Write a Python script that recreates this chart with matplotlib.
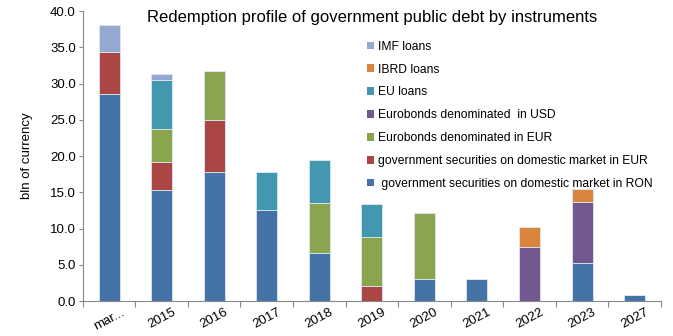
import matplotlib
matplotlib.use("Agg")
import matplotlib.pyplot as plt
from matplotlib.patches import Patch
import numpy as np

plt.rcParams["font.family"] = ["Liberation Sans", "DejaVu Sans"]

categories = ["mar...", "2015", "2016", "2017", "2018", "2019", "2020",
              "2021", "2022", "2023", "2027"]

# stacking order bottom -> top
ron       = [28.6, 15.3, 17.8, 12.6, 6.6, 0.0, 3.0, 3.0, 0.0, 5.3, 0.83]
dom_eur   = [5.8, 3.9, 7.2, 0.0, 0.0, 2.1, 0.0, 0.0, 0.0, 0.0, 0.0]
euro_eur  = [0.0, 4.6, 6.7, 0.0, 6.9, 6.8, 9.1, 0.0, 0.0, 0.0, 0.0]
euro_usd  = [0.0, 0.0, 0.0, 0.0, 0.0, 0.0, 0.0, 0.0, 7.5, 8.35, 0.0]
eu_loans  = [0.0, 6.7, 0.0, 5.15, 6.0, 4.5, 0.0, 0.0, 0.0, 0.0, 0.0]
ibrd      = [0.0, 0.0, 0.0, 0.0, 0.0, 0.0, 0.0, 0.0, 2.7, 1.8, 0.0]
imf       = [3.7, 0.8, 0.0, 0.0, 0.0, 0.0, 0.0, 0.0, 0.0, 0.0, 0.0]

series = [
    (" government securities on domestic market in RON", ron, "#4572A7"),
    ("government securities on domestic market in EUR", dom_eur, "#AA4643"),
    ("Eurobonds denominated in EUR", euro_eur, "#89A54E"),
    ("Eurobonds denominated  in USD", euro_usd, "#71588F"),
    ("EU loans", eu_loans, "#4198AF"),
    ("IBRD loans", ibrd, "#DB843D"),
    ("IMF loans", imf, "#93A9CF"),
]

fig = plt.figure(figsize=(6.73, 3.36), dpi=100)
ax = fig.add_axes([0.123, 0.104, 0.859, 0.863])

x = np.arange(len(categories))
bottom = np.zeros(len(categories))
for label, vals, color in series:
    vals = np.array(vals)
    ax.bar(x, vals, 0.4, bottom=bottom, color=color,
           edgecolor="#dde6f0", linewidth=0.6)
    bottom += vals

ax.set_xlim(-0.5, len(categories) - 0.5)
ax.set_ylim(0, 40)
ax.set_yticks(np.arange(0, 40.1, 5))
ax.set_yticklabels([f"{v:.1f}" for v in np.arange(0, 40.1, 5)], fontsize=9.5)
ax.tick_params(axis="y", length=3, color="#888888", pad=2)

# ticks on category boundaries, labels centred under the bars
ax.set_xticks(np.arange(-0.5, len(categories), 1.0))
ax.set_xticklabels([])
ax.tick_params(axis="x", which="major", length=4, color="#888888")
ax.set_xticks(x, minor=True)
ax.set_xticklabels(categories, minor=True, rotation=28, ha="center", fontsize=9.5)
ax.tick_params(axis="x", which="minor", length=0, pad=4)

for side in ("top", "right"):
    ax.spines[side].set_visible(False)
for side in ("left", "bottom"):
    ax.spines[side].set_color("#888888")

ax.set_ylabel("bln of currency", fontsize=9.5, labelpad=12)
fig.text(0.553, 0.948, "Redemption profile of government public debt by instruments",
         ha="center", va="center", fontsize=12)

handles = [Patch(facecolor=c, label=l) for l, _, c in series][::-1]
fig.legend(handles=handles, loc="upper left", bbox_to_anchor=(0.536, 0.897),
           frameon=False, fontsize=8.7, handlelength=0.6, handleheight=0.6,
           handletextpad=0.35, labelspacing=0.9, borderpad=0)

fig.savefig("out.png", dpi=100)
